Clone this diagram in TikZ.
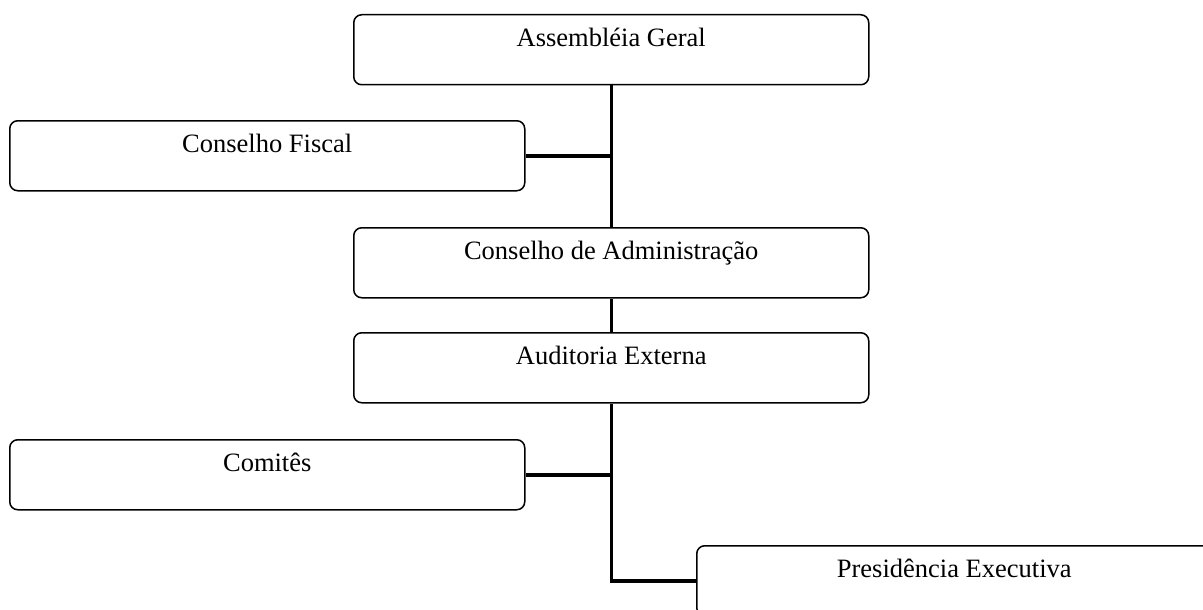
\documentclass[tikz,border=0pt]{standalone}
\usepackage{fontspec}
\setmainfont{Liberation Serif}
\begin{document}
\begin{tikzpicture}[x=1pt,y=-1pt,
  orgbox/.style={draw, line width=1.5pt, rounded corners=8pt, inner sep=0pt,
    minimum width=515pt, text height=31.5pt, text depth=38.5pt,
    anchor=north west, font=\fontsize{26.5}{30}\selectfont},
  link/.style={line width=3.5pt}]
\useasboundingbox (0,0) rectangle (1203,610);
\clip (0,0) rectangle (1203,610);
\node[orgbox] (ag) at (353,14) {Assembléia Geral};
\node[orgbox] (cf) at (9,120) {Conselho Fiscal};
\node[orgbox] (ca) at (353,227) {Conselho de Administração};
\node[orgbox] (ae) at (353,332) {Auditoria Externa};
\node[orgbox] (cm) at (9,439) {Comitês};
\node[orgbox] (pe) at (696,545) {Presidência Executiva};
\draw[link] (ag.south) -- (ca.north);
\draw[link] (cf.east) -- (cf.east -| ag.south);
\draw[link] (ca.south) -- (ae.north);
\draw[link] (ae.south) |- (pe.west);
\draw[link] (cm.east) -- (cm.east -| ae.south);
\end{tikzpicture}
\end{document}
